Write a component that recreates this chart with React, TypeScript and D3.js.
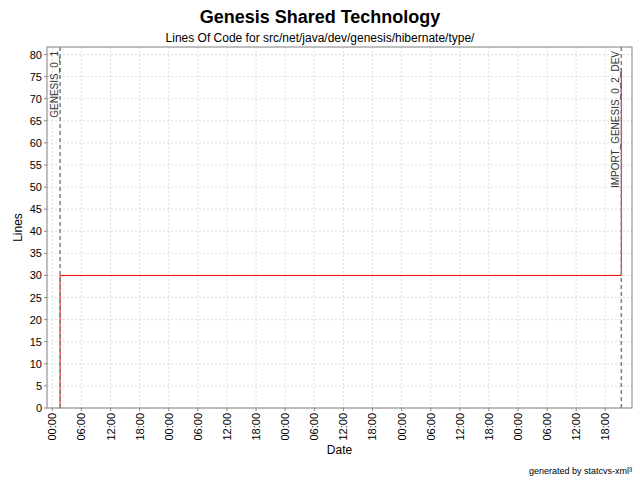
import React from "react";
import * as d3 from "d3";

const times = [1.6, 1.6, 117.3, 117.3]; // hours from first midnight
const lines = [0, 30, 30, 77];
const yTicks = d3.range(0, 81, 5);
const xTickHours = d3.range(0, 115, 6);
const markers = [
  { t: 1.6, label: "GENESIS_0_1" },
  { t: 117.3, label: "IMPORT_GENESIS_0_2_DEV" },
];

export default function App() {
  const L = 47, R = 632, T = 47, B = 408;
  const x = d3.scaleLinear().domain([-1.1, 119.5]).range([L, R]);
  const y = d3.scaleLinear().domain([0, 81.7]).range([B, T]);
  const pts = times.map((t, i) => [x(t), y(lines[i])] as [number, number]);
  const path = d3.line()(pts) || "";
  const font = "Arial, 'Liberation Sans', sans-serif";
  const fmt = (h: number) => String(h % 24).padStart(2, "0") + ":00";
  return (
    <svg width={640} height={480} style={{ position: "absolute", left: 0, top: 0 }} fontFamily={font}>
      <rect width={640} height={480} fill="#fff" />
      <text x={320} y={23} textAnchor="middle" fontSize={18} fontWeight="bold">Genesis Shared Technology</text>
      <text x={320} y={42} textAnchor="middle" fontSize={12}>Lines Of Code for src/net/java/dev/genesis/hibernate/type/</text>
      {yTicks.map(v => (
        <g key={"y" + v}>
          <line x1={L} x2={R} y1={y(v)} y2={y(v)} stroke="#ddd" strokeDasharray="2,2" />
          <line x1={L - 3} x2={L} y1={y(v)} y2={y(v)} stroke="#888" />
          <text x={L - 5} y={y(v) + 4} textAnchor="end" fontSize={11}>{v}</text>
        </g>
      ))}
      {xTickHours.map(h => (
        <g key={"x" + h}>
          <line x1={x(h)} x2={x(h)} y1={T} y2={B} stroke="#ddd" strokeDasharray="2,2" />
          <line x1={x(h)} x2={x(h)} y1={B} y2={B + 3} stroke="#888" />
          <text transform={`translate(${x(h) + 4},${B + 5}) rotate(-90)`} textAnchor="end" fontSize={11}>{fmt(h)}</text>
        </g>
      ))}
      <path d={path} fill="none" stroke="#ff0000" strokeWidth={1} />
      {markers.map(m => (
        <g key={m.label}>
          <line x1={x(m.t)} x2={x(m.t)} y1={T} y2={B} stroke="#808080" strokeWidth={1.5} strokeDasharray="4,3" />
          <text transform={`translate(${x(m.t) - 2},${T + 4}) rotate(-90)`} textAnchor="end" fontSize={10} fill="#333">{m.label}</text>
        </g>
      ))}
      <rect x={L} y={T} width={R - L} height={B - T} fill="none" stroke="#808080" />
      <text transform={`translate(22,${(T + B) / 2}) rotate(-90)`} textAnchor="middle" fontSize={12}>Lines</text>
      <text x={(L + R) / 2} y={454} textAnchor="middle" fontSize={12}>Date</text>
      <text x={632} y={474} textAnchor="end" fontSize={9}>generated by statcvs-xml³</text>
    </svg>
  );
}
